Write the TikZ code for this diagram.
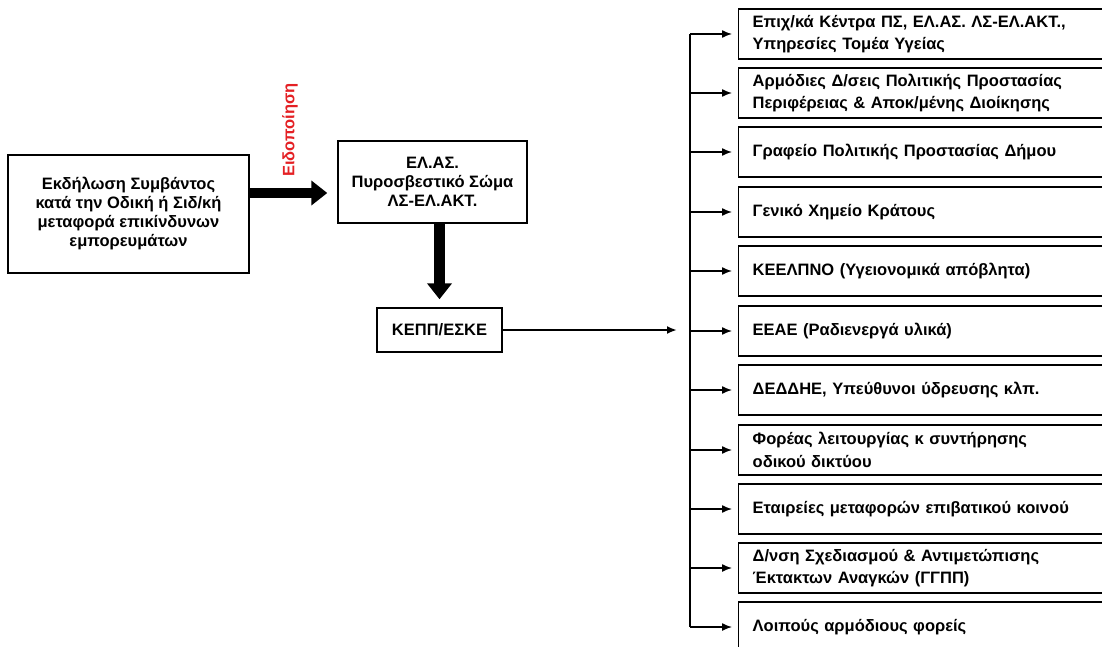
\documentclass[tikz,border=0pt]{standalone}
\usepackage{fontspec}
\setmainfont{Liberation Sans}
\usepackage{tikz}
\usetikzlibrary{positioning, arrows, arrows.meta}
\definecolor{alertred}{RGB}{228,32,36}

\begin{document}
\begin{tikzpicture}[x=1pt, y=-1pt, >={Latex[length=10pt,width=8pt]},
  font=\bfseries\fontsize{16.5}{19}\selectfont,
  box/.style={draw, line width=1.4pt, align=center, inner sep=0pt},
  agency/.style={draw, line width=1.4pt, anchor=west, minimum height=50pt,
    text width=350pt, inner xsep=14pt, align=left,
    font=\bfseries\fontsize{16.5}{22.5}\selectfont},
  bigarrow/.style={line width=10pt, -{Triangle[length=16pt, width=24pt]}},
  link/.style={line width=1.4pt, ->}]

\useasboundingbox (0,0) rectangle (1102,647);
\clip (0,0) rectangle (1102,647);

% Nodes
\node[box, minimum width=241pt, minimum height=118pt] (event) at (128.5,214)
  {Εκδήλωση Συμβάντος\\κατά την Οδική ή Σιδ/κή\\μεταφορά επικίνδυνων\\εμπορευμάτων};
\node[box, minimum width=189pt, minimum height=82pt] (elas) at (432.5,182)
  {ΕΛ.ΑΣ.\\Πυροσβεστικό Σώμα\\ΛΣ-ΕΛ.ΑΚΤ.};
\node[box, minimum width=125pt, minimum height=44pt] (kepp) at (439.5,330) {ΚΕΠΠ/ΕΣΚΕ};
\node[rotate=90, text=alertred] (notice) at (290,130) {Ειδοποίηση};

% Recipients
\node[agency] (r1) at (738,34) {Επιχ/κά Κέντρα ΠΣ, ΕΛ.ΑΣ. ΛΣ-ΕΛ.ΑΚΤ.,\\Υπηρεσίες Τομέα Υγείας};
\node[agency] (r2) at (738,93) {Αρμόδιες Δ/σεις Πολιτικής Προστασίας\\Περιφέρειας \& Αποκ/μένης Διοίκησης};
\node[agency] (r3) at (738,152) {Γραφείο Πολιτικής Προστασίας Δήμου};
\node[agency] (r4) at (738,212) {Γενικό Χημείο Κράτους};
\node[agency] (r5) at (738,271) {ΚΕΕΛΠΝΟ (Υγειονομικά απόβλητα)};
\node[agency] (r6) at (738,331) {ΕΕΑΕ (Ραδιενεργά υλικά)};
\node[agency] (r7) at (738,390) {ΔΕΔΔΗΕ, Υπεύθυνοι ύδρευσης κλπ.};
\node[agency] (r8) at (738,450) {Φορέας λειτουργίας κ συντήρησης\\οδικού δικτύου};
\node[agency] (r9) at (738,509) {Εταιρείες μεταφορών επιβατικού κοινού};
\node[agency] (r10) at (738,568) {Δ/νση Σχεδιασμού \& Αντιμετώπισης\\Έκτακτων Αναγκών (ΓΓΠΠ)};
\node[agency] (r11) at (738,627) {Λοιπούς αρμόδιους φορείς};

\coordinate (bus) at (690,0);

% Arrows
\draw[bigarrow, shorten >=10pt] ([yshift=21pt]event.east) -- ([yshift=-11pt]elas.west);
\draw[bigarrow, line width=11pt, shorten >=8pt] (kepp.north |- elas.south) -- (kepp.north);
\draw[link, line width=2.6pt, shorten >=13pt] (kepp.east) -- (kepp.east -| bus);
\draw[line width=1.4pt] (bus |- r1.west) -- (bus |- r11.west);
\foreach \r in {r1,r2,r3,r4,r5,r6,r7,r8,r9,r10,r11}
  \draw[link, shorten >=6pt] (bus |- \r.west) -- (\r.west);

\end{tikzpicture}
\end{document}
